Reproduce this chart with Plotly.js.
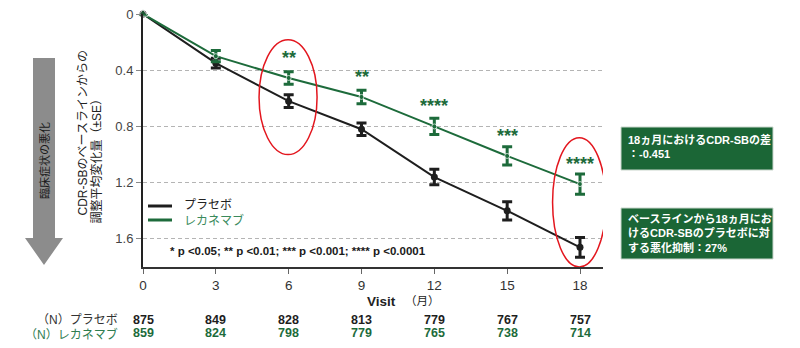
<!DOCTYPE html>
<html>
<head>
<meta charset="utf-8">
<script src="https://cdn.plot.ly/plotly-3.0.1.min.js"></script>
<style>html,body{margin:0;padding:0;background:#fff;}#chart{width:800px;height:348px;}</style>
</head>
<body>
<div id="chart"></div>
<script>
// ---- data ----
const months = [0, 3, 6, 9, 12, 15, 18];
const placebo = [0, 0.35, 0.62, 0.82, 1.16, 1.40, 1.66];
const placeboSE = [0, 0.035, 0.045, 0.045, 0.055, 0.065, 0.07];
const lecanemab = [0, 0.30, 0.455, 0.59, 0.80, 1.01, 1.21];
const lecanemabSE = [0, 0.04, 0.045, 0.048, 0.058, 0.065, 0.072];
const nPlacebo = [875, 849, 828, 813, 779, 767, 757];
const nLecanemab = [859, 824, 798, 779, 765, 738, 714];
const sigMonths = [6, 9, 12, 15, 18];
const sigLabels = ['**', '**', '****', '***', '****'];
const yTickVals = [0, 0.4, 0.8, 1.2, 1.6];
const yTickText = ['0', '0.4', '0.8', '1.2', '1.6'];
const seriesNames = ['プラセボ', 'レカネマブ'];
const rowLabels = ['（N）プラセボ', '（N）レカネマブ'];

// ---- style ----
const FONT = 'Liberation Sans, Arial, Noto Sans CJK JP, sans-serif';
const BLACK = '#1e1e1e';
const GREEN = '#1d6b3b';
const BOXGREEN = '#1b6636';
const W = 800, H = 348;
const L = 143, R = 603, T = 14, B = 267;
const px = x => (x - L) / (R - L);
const py = y => (B - y) / (B - T);

const traces = [
  {
    x: months, y: placebo, name: seriesNames[0], type: 'scatter', mode: 'lines+markers',
    line: {color: BLACK, width: 2},
    marker: {color: BLACK, size: 7, symbol: 'circle'},
    error_y: {type: 'data', array: placeboSE, visible: true, color: BLACK, thickness: 3, width: 5},
    cliponaxis: false, showlegend: false
  },
  {
    x: months, y: lecanemab, name: seriesNames[1], type: 'scatter', mode: 'lines+markers',
    line: {color: GREEN, width: 2},
    marker: {color: GREEN, size: months.map((m, i) => i === 0 ? 9 : 5),
             symbol: months.map((m, i) => i === 0 ? 'triangle-up' : 'circle')},
    error_y: {type: 'data', array: lecanemabSE, visible: true, color: GREEN, thickness: 3, width: 5},
    cliponaxis: false, showlegend: false
  }
];

const annotations = [];
// significance stars above lecanemab points
sigMonths.forEach((m, i) => {
  const idx = months.indexOf(m);
  annotations.push({
    x: m, y: lecanemab[idx], xref: 'x', yref: 'y', text: sigLabels[i], showarrow: false,
    yanchor: 'middle', xanchor: 'center', yshift: 20,
    font: {family: FONT, size: 18, color: GREEN, weight: 'bold'}
  });
});
// N table
months.forEach((m, i) => {
  annotations.push({x: m, y: py(320), xref: 'x', yref: 'paper', text: '<b>' + nPlacebo[i] + '</b>',
    showarrow: false, xanchor: 'center', yanchor: 'middle', font: {family: FONT, size: 12.5, color: BLACK}});
  annotations.push({x: m, y: py(333), xref: 'x', yref: 'paper', text: '<b>' + nLecanemab[i] + '</b>',
    showarrow: false, xanchor: 'center', yanchor: 'middle', font: {family: FONT, size: 12.5, color: GREEN}});
});
annotations.push({x: px(120), y: py(320), xref: 'paper', yref: 'paper', text: rowLabels[0], showarrow: false,
  xanchor: 'right', yanchor: 'middle', font: {family: FONT, size: 12, color: '#333'}});
annotations.push({x: px(120), y: py(334), xref: 'paper', yref: 'paper', text: rowLabels[1], showarrow: false,
  xanchor: 'right', yanchor: 'middle', font: {family: FONT, size: 12, color: '#2e7d50'}});
// x-axis title
annotations.push({x: px(381), y: py(301), xref: 'paper', yref: 'paper', text: '<b>Visit</b>', showarrow: false,
  xanchor: 'center', yanchor: 'middle', font: {family: FONT, size: 13.5, color: '#222'}});
annotations.push({x: px(422), y: py(301), xref: 'paper', yref: 'paper', text: '（月）', showarrow: false,
  xanchor: 'center', yanchor: 'middle', borderpad: 0, font: {family: FONT, size: 11.5, color: '#222'}});
// y-axis title (two lines, rotated)
annotations.push({x: px(82), y: py(133.5), xref: 'paper', yref: 'paper', text: 'CDR-SBのベースラインからの',
  showarrow: false, textangle: -90, xanchor: 'center', yanchor: 'middle', font: {family: FONT, size: 12, color: '#222'}});
annotations.push({x: px(96), y: py(158.5), xref: 'paper', yref: 'paper', text: '調整平均変化量（±SE）',
  showarrow: false, textangle: -90, xanchor: 'center', yanchor: 'middle', font: {family: FONT, size: 12, color: '#222'}});
// arrow label
annotations.push({x: px(44), y: py(161), xref: 'paper', yref: 'paper', text: '臨床症状の悪化',
  showarrow: false, textangle: -90, xanchor: 'center', yanchor: 'middle', font: {family: FONT, size: 11, color: '#1a1a1a'}});
// legend
annotations.push({x: px(182), y: py(205), xref: 'paper', yref: 'paper', text: seriesNames[0], showarrow: false,
  xanchor: 'left', yanchor: 'middle', font: {family: FONT, size: 12, color: '#222'}});
annotations.push({x: px(182), y: py(220), xref: 'paper', yref: 'paper', text: seriesNames[1], showarrow: false,
  xanchor: 'left', yanchor: 'middle', font: {family: FONT, size: 12, color: '#3a8a5c'}});
// footnote
annotations.push({x: px(168), y: py(251), xref: 'paper', yref: 'paper',
  text: '<b>* p &lt;0.05; ** p &lt;0.01; *** p &lt;0.001; **** p &lt;0.0001</b>', showarrow: false,
  xanchor: 'left', yanchor: 'middle', font: {family: FONT, size: 11.5, color: '#1a1a1a'}});
// right boxes text
annotations.push({x: px(626), y: py(131), xref: 'paper', yref: 'paper',
  text: '<b>18ヵ月におけるCDR-SBの差<br>：-0.451</b>', showarrow: false, align: 'left',
  xanchor: 'left', yanchor: 'top', font: {family: FONT, size: 11, color: '#ffffff'}});
annotations.push({x: px(626), y: py(211), xref: 'paper', yref: 'paper',
  text: '<b>ベースラインから18ヵ月にお<br>けるCDR-SBのプラセボに対<br>する悪化抑制：27%</b>', showarrow: false, align: 'left',
  xanchor: 'left', yanchor: 'top', font: {family: FONT, size: 11, color: '#ffffff'}});

const shapes = [
  // red ellipses
  {type: 'circle', xref: 'x', yref: 'y', x0: 4.78, x1: 7.17, y0: 0.183, y1: 1.0, line: {color: '#e3161e', width: 1.5}},
  {type: 'circle', xref: 'x', yref: 'y', x0: 16.87, x1: 19.07, y0: 0.88, y1: 1.8, line: {color: '#e3161e', width: 1.5}},
  // legend lines
  {type: 'line', xref: 'paper', yref: 'paper', x0: px(148), x1: px(172), y0: py(206), y1: py(206), line: {color: BLACK, width: 3}},
  {type: 'line', xref: 'paper', yref: 'paper', x0: px(148), x1: px(172), y0: py(220), y1: py(220), line: {color: GREEN, width: 3}},
  // right boxes
  {type: 'rect', xref: 'paper', yref: 'paper', x0: px(621), x1: px(773), y0: py(127), y1: py(170),
   fillcolor: BOXGREEN, line: {color: '#c9d6cc', width: 1}},
  {type: 'rect', xref: 'paper', yref: 'paper', x0: px(621), x1: px(773), y0: py(208), y1: py(259),
   fillcolor: BOXGREEN, line: {color: '#c9d6cc', width: 1}},
  // grey arrow
  {type: 'path', xref: 'paper', yref: 'paper',
   path: 'M ' + px(33) + ' ' + py(58) + ' L ' + px(55) + ' ' + py(58) + ' L ' + px(55) + ' ' + py(238) +
         ' L ' + px(63) + ' ' + py(238) + ' L ' + px(44) + ' ' + py(265) + ' L ' + px(25) + ' ' + py(238) +
         ' L ' + px(33) + ' ' + py(238) + ' Z',
   fillcolor: '#8c8c8c', line: {width: 0}, layer: 'below'}
];

const layout = {
  width: W, height: H,
  margin: {l: L, r: W - R, t: T, b: H - B, pad: 0},
  paper_bgcolor: '#ffffff', plot_bgcolor: '#ffffff',
  font: {family: FONT, size: 13, color: '#333'},
  showlegend: false,
  xaxis: {
    range: [0, (R - L) / ((580 - L) / 18)], tickvals: months, ticktext: months.map(String),
    showgrid: false, zeroline: false, showline: true, linecolor: '#333', linewidth: 2,
    ticks: 'outside', ticklen: 5, tickcolor: '#666', tickwidth: 1,
    tickfont: {family: FONT, size: 13.5, color: '#333'}, fixedrange: true
  },
  yaxis: {
    range: [1.8, 0], tickvals: yTickVals, ticktext: yTickText,
    showgrid: true, gridcolor: '#b4b4b4', griddash: '4px,3px', gridwidth: 1,
    zeroline: false, showline: true, linecolor: '#222', linewidth: 2,
    ticks: 'outside', ticklen: 5, tickcolor: '#888', tickwidth: 1,
    tickfont: {family: FONT, size: 13, color: '#444'}, fixedrange: true
  },
  annotations: annotations,
  shapes: shapes
};

Plotly.newPlot('chart', traces, layout, {staticPlot: true, displayModeBar: false});
</script>
</body>
</html>
